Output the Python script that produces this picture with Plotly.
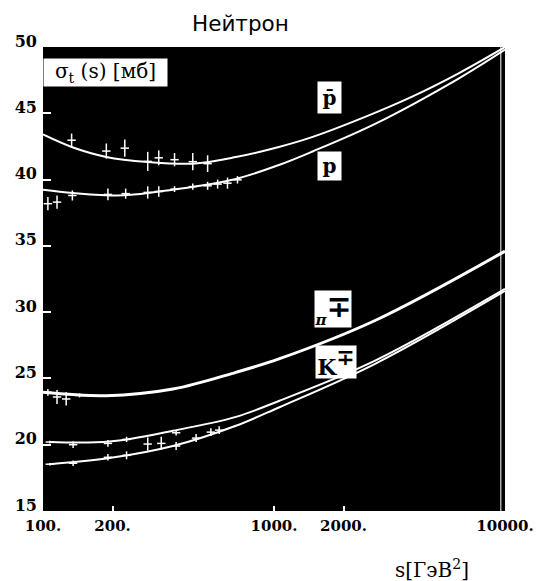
import plotly.graph_objects as go

# ---- curves ----
pbar_s = [100, 133, 188, 284, 445, 684, 1050, 1460, 2480, 3940, 6270, 10000]
pbar_y = [43.4, 42.46, 41.71, 41.33, 41.2, 41.7, 42.46, 43.2, 44.73, 46.24, 48.0, 50.0]

p_s = [100, 135, 222, 365, 684, 1050, 1460, 2740, 6270, 10000]
p_y = [39.24, 38.99, 38.81, 39.24, 40.05, 41.1, 42.1, 44.2, 47.6, 49.8]

pi_s = [100, 188, 365, 684, 1050, 2740, 10000]
pi_y = [23.95, 23.7, 24.2, 25.46, 26.47, 29.37, 34.6]

km_s = [107, 194, 365, 684, 1050, 2740, 10000]
km_y = [20.2, 20.24, 21.05, 22.1, 23.3, 26.34, 31.75]

kp_s = [107, 194, 365, 684, 1050, 2740, 10000]
kp_y = [18.53, 18.99, 19.9, 21.43, 22.81, 26.1, 31.6]

# ---- data points with errors ----
pbar_pts_s = [133, 188, 226, 284, 317, 371, 445, 516]
pbar_pts_y = [42.97, 42.15, 42.37, 41.37, 41.64, 41.5, 41.35, 41.2]
pbar_pts_e = [0.5, 0.57, 0.65, 0.72, 0.56, 0.5, 0.65, 0.63]

p_pts_s = [105, 115, 134, 191, 228, 284, 317, 371, 445, 516, 570, 629, 695]
p_pts_y = [38.18, 38.3, 38.8, 38.88, 38.94, 39.03, 39.1, 39.28, 39.47, 39.53, 39.66, 39.73, 39.98]
p_pts_e = [0.5, 0.5, 0.38, 0.44, 0.38, 0.46, 0.4, 0.22, 0.23, 0.3, 0.34, 0.42, 0.28]

pi_pts_s = [105, 115, 126, 144]
pi_pts_y = [23.95, 23.6, 23.45, 23.72]
pi_pts_e = [0.25, 0.53, 0.5, 0.15]

km_pts_s = [107, 135, 191, 230, 284, 325, 377]
km_pts_y = [20.2, 20.0, 20.1, 20.4, 20.05, 20.1, 20.9]
km_pts_e = [0.1, 0.25, 0.25, 0.2, 0.5, 0.5, 0.2]

kp_pts_s = [107, 135, 191, 230, 377, 460, 533, 579]
kp_pts_y = [18.53, 18.6, 19.05, 19.2, 19.9, 20.5, 20.95, 21.1]
kp_pts_e = [0.1, 0.2, 0.25, 0.3, 0.3, 0.3, 0.3, 0.3]

x_tickvals = [100, 200, 1000, 2000, 10000]
x_ticktext = ["100.", "200.", "1000.", "2000.", "10000."]
y_tickvals = [15, 20, 25, 30, 35, 40, 45, 50]
y_ticktext = ["15", "20", "25", "30", "35", "40", "45", "50"]

fig = go.Figure()

for xs, ys, w in [(pbar_s, pbar_y, 2), (p_s, p_y, 2), (pi_s, pi_y, 3),
                  (km_s, km_y, 2), (kp_s, kp_y, 2)]:
    fig.add_trace(go.Scatter(x=xs, y=ys, mode="lines",
                             line=dict(color="white", width=w, shape="spline", smoothing=1),
                             showlegend=False, hoverinfo="skip"))

for xs, ys, es in [(pbar_pts_s, pbar_pts_y, pbar_pts_e), (p_pts_s, p_pts_y, p_pts_e),
                   (pi_pts_s, pi_pts_y, pi_pts_e), (km_pts_s, km_pts_y, km_pts_e),
                   (kp_pts_s, kp_pts_y, kp_pts_e)]:
    fig.add_trace(go.Scatter(x=xs, y=ys, mode="markers",
                             marker=dict(symbol="line-ew", size=6,
                                         line=dict(color="white", width=1.5)),
                             error_y=dict(type="data", array=es, color="white",
                                          thickness=1.5, width=0),
                             showlegend=False, hoverinfo="skip"))

fig.update_layout(
    width=546, height=581,
    margin=dict(l=43, r=39, t=47, b=70),
    paper_bgcolor="white", plot_bgcolor="black",
    xaxis=dict(type="log", range=[2, 4], tickvals=x_tickvals, ticktext=x_ticktext,
               ticks="inside", ticklen=5, tickcolor="white", tickwidth=1.5,
               showgrid=False, zeroline=False, showline=False, ticklabelstandoff=4,
               tickfont=dict(family="DejaVu Serif", size=15, color="black", weight="bold")),
    yaxis=dict(range=[15, 50], tickvals=y_tickvals, ticktext=y_ticktext,
               ticks="inside", ticklen=8, tickcolor="white", tickwidth=1.5,
               showgrid=False, zeroline=False, showline=False,
               ticklabelshift=-6, ticklabelstandoff=5,
               tickfont=dict(family="DejaVu Serif", size=16, color="black", weight="bold")),
)

# thin white line near right edge
fig.add_shape(type="line", xref="paper", yref="paper", x0=0.991, x1=0.991, y0=0, y1=1,
              line=dict(color="white", width=1))

ann = []
ann.append(dict(text="Нейтрон", xref="paper", yref="paper", x=0.4267, y=1.0517,
                showarrow=False, xanchor="center", yanchor="middle",
                font=dict(family="DejaVu Sans", size=21.5, color="black")))
ann.append(dict(text="s[ГэВ<sup>2</sup>]", xref="paper", yref="paper", x=0.8427, y=-0.125,
                showarrow=False, xanchor="center", yanchor="middle",
                font=dict(family="DejaVu Serif", size=20, color="black")))
ann.append(dict(text="σ<sub>t</sub> (s) [мб]", xref="paper", yref="paper", x=0.1358, y=0.944,
                showarrow=False, xanchor="center", yanchor="middle", width=123, height=27,
                bgcolor="white", borderpad=0,
                font=dict(family="DejaVu Serif", size=20, color="black")))
labels = [("p\u0304", 3.241, 46.22, 23, 31, 20),
          ("p", 3.241, 41.0, 23, 28, 20),
          ("<i><span style='font-size:15px'>π</span></i><sup><span style='font-size:30px'><b>∓</b></span></sup>",
           3.254, 30.27, 36, 36, 20),
          ("K<sup><span style='font-size:22px'>∓</span></sup>", 3.267, 26.27, 40, 32, 22)]
for t, lx, ly, w, h, fs in labels:
    ann.append(dict(text=t, x=lx, y=ly, xref="x", yref="y", showarrow=False,
                    xanchor="center", yanchor="middle", width=w, height=h,
                    bgcolor="white", borderpad=0,
                    font=dict(family="DejaVu Serif", size=fs, color="black", weight="bold")))
fig.update_layout(annotations=ann)

fig.write_html("out.html")
